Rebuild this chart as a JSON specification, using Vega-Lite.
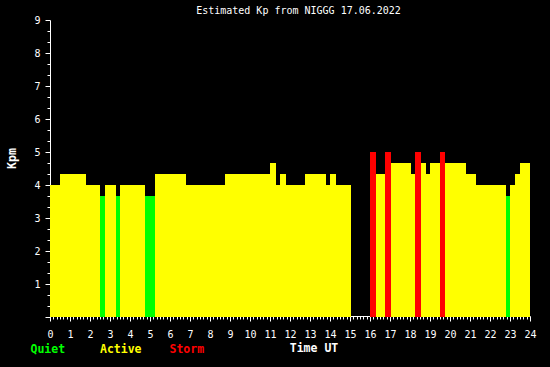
{
  "$schema": "https://vega.github.io/schema/vega-lite/v6.json",
  "width": 480,
  "height": 297,
  "autosize": "none",
  "padding": {"left": 50, "top": 20, "right": 20, "bottom": 50},
  "background": "black",
  "title": {"text": "Estimated Kp from NIGGG 17.06.2022", "color": "white", "font": "DejaVu Sans Mono", "fontSize": 10, "fontWeight": "normal", "anchor": "middle", "frame": "group", "dx": 8.5, "dy": 2, "offset": 1},
  "data": {"values": [
    {"s": 0, "e": 0.5, "kp": 4.0, "c": "Active"},
    {"s": 0.5, "e": 1.8, "kp": 4.333, "c": "Active"},
    {"s": 1.8, "e": 2.5, "kp": 4.0, "c": "Active"},
    {"s": 2.5, "e": 2.75, "kp": 3.667, "c": "Quiet"},
    {"s": 2.75, "e": 3.3, "kp": 4.0, "c": "Active"},
    {"s": 3.3, "e": 3.5, "kp": 3.667, "c": "Quiet"},
    {"s": 3.5, "e": 4.75, "kp": 4.0, "c": "Active"},
    {"s": 4.75, "e": 5.25, "kp": 3.667, "c": "Quiet"},
    {"s": 5.25, "e": 6.8, "kp": 4.333, "c": "Active"},
    {"s": 6.8, "e": 8.75, "kp": 4.0, "c": "Active"},
    {"s": 8.75, "e": 11.0, "kp": 4.333, "c": "Active"},
    {"s": 11.0, "e": 11.3, "kp": 4.667, "c": "Active"},
    {"s": 11.3, "e": 11.5, "kp": 4.0, "c": "Active"},
    {"s": 11.5, "e": 11.8, "kp": 4.333, "c": "Active"},
    {"s": 11.8, "e": 12.75, "kp": 4.0, "c": "Active"},
    {"s": 12.75, "e": 13.8, "kp": 4.333, "c": "Active"},
    {"s": 13.8, "e": 14.0, "kp": 4.0, "c": "Active"},
    {"s": 14.0, "e": 14.3, "kp": 4.333, "c": "Active"},
    {"s": 14.3, "e": 15.05, "kp": 4.0, "c": "Active"},
    {"s": 16.0, "e": 16.3, "kp": 5.0, "c": "Storm"},
    {"s": 16.3, "e": 16.75, "kp": 4.333, "c": "Active"},
    {"s": 16.75, "e": 17.05, "kp": 5.0, "c": "Storm"},
    {"s": 17.05, "e": 18.05, "kp": 4.667, "c": "Active"},
    {"s": 18.05, "e": 18.25, "kp": 4.333, "c": "Active"},
    {"s": 18.25, "e": 18.55, "kp": 5.0, "c": "Storm"},
    {"s": 18.55, "e": 18.8, "kp": 4.667, "c": "Active"},
    {"s": 18.8, "e": 19.0, "kp": 4.333, "c": "Active"},
    {"s": 19.0, "e": 19.5, "kp": 4.667, "c": "Active"},
    {"s": 19.5, "e": 19.75, "kp": 5.0, "c": "Storm"},
    {"s": 19.75, "e": 20.8, "kp": 4.667, "c": "Active"},
    {"s": 20.8, "e": 21.3, "kp": 4.333, "c": "Active"},
    {"s": 21.3, "e": 22.8, "kp": 4.0, "c": "Active"},
    {"s": 22.8, "e": 23.0, "kp": 3.667, "c": "Quiet"},
    {"s": 23.0, "e": 23.25, "kp": 4.0, "c": "Active"},
    {"s": 23.25, "e": 23.5, "kp": 4.333, "c": "Active"},
    {"s": 23.5, "e": 24.0, "kp": 4.667, "c": "Active"}
  ]},
  "mark": {"type": "rect", "stroke": null},
  "encoding": {
    "x": {"field": "s", "type": "quantitative", "scale": {"domain": [0, 24], "nice": false, "zero": false},
      "axis": {
        "title": "Time UT",
        "values": [0,0.1667,0.3333,0.5,0.6667,0.8333,1,1.1667,1.3333,1.5,1.6667,1.8333,2,2.1667,2.3333,2.5,2.6667,2.8333,3,3.1667,3.3333,3.5,3.6667,3.8333,4,4.1667,4.3333,4.5,4.6667,4.8333,5,5.1667,5.3333,5.5,5.6667,5.8333,6,6.1667,6.3333,6.5,6.6667,6.8333,7,7.1667,7.3333,7.5,7.6667,7.8333,8,8.1667,8.3333,8.5,8.6667,8.8333,9,9.1667,9.3333,9.5,9.6667,9.8333,10,10.1667,10.3333,10.5,10.6667,10.8333,11,11.1667,11.3333,11.5,11.6667,11.8333,12,12.1667,12.3333,12.5,12.6667,12.8333,13,13.1667,13.3333,13.5,13.6667,13.8333,14,14.1667,14.3333,14.5,14.6667,14.8333,15,15.1667,15.3333,15.5,15.6667,15.8333,16,16.1667,16.3333,16.5,16.6667,16.8333,17,17.1667,17.3333,17.5,17.6667,17.8333,18,18.1667,18.3333,18.5,18.6667,18.8333,19,19.1667,19.3333,19.5,19.6667,19.8333,20,20.1667,20.3333,20.5,20.6667,20.8333,21,21.1667,21.3333,21.5,21.6667,21.8333,22,22.1667,22.3333,22.5,22.6667,22.8333,23,23.1667,23.3333,23.5,23.6667,23.8333,24],
        "labelExpr": "abs(datum.value - round(datum.value)) < 0.01 ? format(round(datum.value), 'd') : ''",
        "tickSize": {"condition": {"test": "abs(datum.value - round(datum.value)) < 0.01", "value": 5}, "value": 3},
        "offset": -1,
        "labelPadding": 8,
        "labelFlush": false,
        "labelOverlap": false,
        "grid": false,
        "titleX": 263.5,
        "titleY": 26,
        "titleFontWeight": "bold",
        "titleFontSize": 11.5
      }
    },
    "x2": {"field": "e"},
    "y": {"field": "kp", "type": "quantitative", "scale": {"domain": [0, 9], "nice": false},
      "axis": {
        "title": "Kpm",
        "values": [0,0.3333,0.6667,1,1.3333,1.6667,2,2.3333,2.6667,3,3.3333,3.6667,4,4.3333,4.6667,5,5.3333,5.6667,6,6.3333,6.6667,7,7.3333,7.6667,8,8.3333,8.6667,9],
        "labelExpr": "datum.value > 0.99 && abs(datum.value - round(datum.value)) < 0.01 ? format(round(datum.value), 'd') : ''",
        "tickSize": {"condition": {"test": "abs(datum.value - round(datum.value)) < 0.01", "value": 5}, "value": 3},
        "labelPadding": 5,
        "labelOverlap": false,
        "labelFlush": false,
        "grid": false,
        "titleX": -33,
        "titleY": 138,
        "titleFontWeight": "bold",
        "titleFontSize": 11.5
      }
    },
    "y2": {"datum": 0},
    "color": {"field": "c", "type": "nominal",
      "scale": {"domain": ["Quiet", "Active", "Storm"], "range": ["#00ff00", "#ffff00", "#ff0000"]},
      "legend": {
        "orient": "none", "legendX": -31, "legendY": 323.5, "direction": "horizontal", "title": null,
        "symbolSize": 0, "symbolOpacity": 0, "symbolStrokeWidth": 0, "labelOffset": 0,
        "labelFont": "DejaVu Sans Mono", "labelFontWeight": "bold", "labelFontSize": 11.5,
        "labelColor": {"expr": "datum.value === 'Quiet' ? '#00ff00' : datum.value === 'Storm' ? '#ff0000' : '#ffff00'"},
        "columns": 3, "gridAlign": "all", "columnPadding": 15.5, "padding": 0
      }
    }
  },
  "config": {
    "view": {"stroke": null},
    "axis": {"domainColor": "white", "tickColor": "white", "labelColor": "white", "titleColor": "white", "labelFont": "DejaVu Sans Mono", "titleFont": "DejaVu Sans Mono", "labelFontSize": 10, "domainWidth": 1, "tickWidth": 1}
  }
}
